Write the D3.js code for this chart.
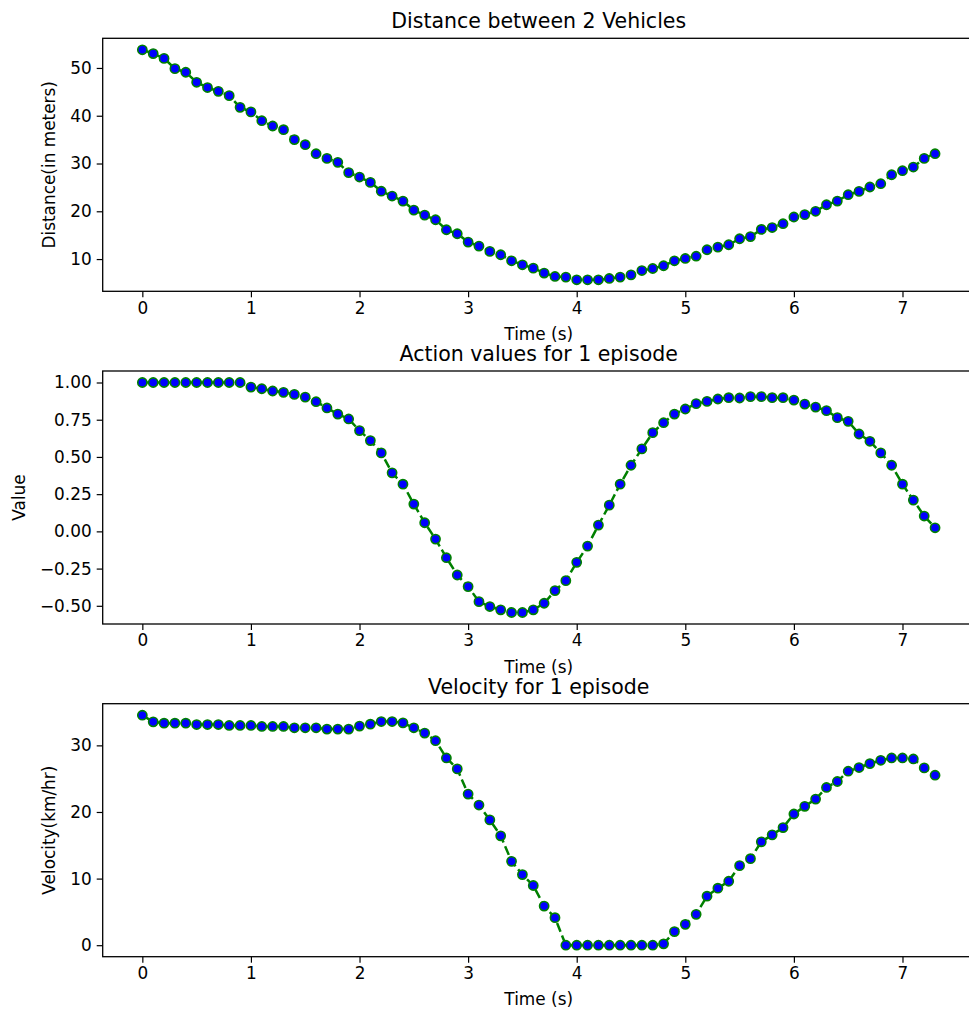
<!DOCTYPE html>
<html>
<head>
<meta charset="utf-8">
<script src="https://cdn.jsdelivr.net/npm/d3@7"></script>
<style>
  html, body { margin: 0; padding: 0; background: #fff; }
  svg { display: block; }
  text { font-family: "DejaVu Sans", sans-serif; fill: #000; }
</style>
</head>
<body>
<svg id="chart" width="969" height="1012"></svg>
<script>
// ---- data ----
const time = [0.0,0.1,0.2,0.3,0.4,0.5,0.6,0.7,0.8,0.9,
  1.0,1.1,1.2,1.3,1.4,1.5,1.6,1.7,1.8,1.9,
  2.0,2.1,2.2,2.3,2.4,2.5,2.6,2.7,2.8,2.9,
  3.0,3.1,3.2,3.3,3.4,3.5,3.6,3.7,3.8,3.9,
  4.0,4.1,4.2,4.3,4.4,4.5,4.6,4.7,4.8,4.9,
  5.0,5.1,5.2,5.3,5.4,5.5,5.6,5.7,5.8,5.9,
  6.0,6.1,6.2,6.3,6.4,6.5,6.6,6.7,6.8,6.9,
  7.0,7.1,7.2,7.3];

const distance = [53.8,53.0,52.0,49.85,49.1,47.0,45.9,45.1,44.2,41.75,
  40.8,38.96,37.85,37.08,35.0,33.94,32.05,31.07,30.24,28.1,
  27.17,26.05,24.2,23.19,22.14,20.25,19.2,18.23,16.14,15.3,
  13.55,12.7,11.6,10.9,9.64,8.8,8.1,7.07,6.36,6.22,
  5.66,5.66,5.66,5.94,6.22,6.7,7.6,8.03,8.6,9.64,
  10.13,10.6,11.95,12.5,13.0,14.25,14.7,16.2,16.6,17.4,
  18.8,19.3,20.0,21.37,22.14,23.47,24.16,25.08,25.77,27.65,
  28.49,29.26,31.07,32.05];

const action = [1.0,1.0,1.0,1.0,1.0,1.0,1.0,1.0,1.0,1.0,
  0.969,0.958,0.943,0.934,0.920,0.902,0.871,0.829,0.788,0.755,
  0.677,0.610,0.527,0.393,0.317,0.183,0.058,-0.052,-0.177,-0.293,
  -0.371,-0.472,-0.505,-0.527,-0.545,-0.545,-0.527,-0.483,-0.398,-0.331,
  -0.208,-0.099,0.042,0.176,0.317,0.444,0.554,0.663,0.730,0.788,
  0.822,0.858,0.873,0.889,0.898,0.896,0.905,0.905,0.898,0.898,
  0.882,0.855,0.835,0.811,0.764,0.739,0.654,0.605,0.527,0.444,
  0.317,0.210,0.103,0.024];

const velocity = [34.53,33.53,33.33,33.33,33.33,33.13,33.13,33.13,32.99,32.99,
  32.99,32.84,32.84,32.84,32.64,32.64,32.64,32.44,32.44,32.44,
  32.89,33.18,33.58,33.58,33.38,32.64,31.84,30.70,28.11,26.47,
  22.69,21.04,18.81,16.42,12.59,10.60,8.96,5.87,4.13,0.0,
  0.0,0.0,0.0,0.0,0.0,0.0,0.0,0.0,0.2,2.04,
  3.13,4.63,7.36,8.56,9.6,11.94,12.99,15.52,16.57,17.66,
  19.70,20.85,21.94,23.68,24.58,26.12,26.67,27.26,27.76,28.11,
  28.11,27.96,26.62,25.52];

const xTicks = [0,1,2,3,4,5,6,7];
const distTicks = [10,20,30,40,50];
const actionTicks = [-0.5,-0.25,0,0.25,0.5,0.75,1.0];
const velTicks = [0,10,20,30];

const titles = ["Distance between 2 Vehicles", "Action values for 1 episode", "Velocity for 1 episode"];
const yLabels = ["Distance(in meters)", "Value", "Velocity(km/hr)"];
const xLabel = "Time (s)";

// ---- layout ----
const svg = d3.select("#chart");
const left = 102.7, right = 974.7, axH = 253;
const tops = [38.3, 371, 703.7];
const ylabX = [54.5, 24.5, 54.5];

function padDomain(arr) {
  const lo = d3.min(arr), hi = d3.max(arr), m = (hi - lo) * 0.05;
  return [lo - m, hi + m];
}
const xDom = padDomain(time);
const x = d3.scaleLinear().domain(xDom).range([left, right]);

const panels = [
  {vals: distance, ticks: distTicks, fmt: d3.format("d")},
  {vals: action, ticks: actionTicks, fmt: d3.format(".2f")},
  {vals: velocity, ticks: velTicks, fmt: d3.format("d")}
];

panels.forEach((p, i) => {
  const top = tops[i], bottom = top + axH;
  const y = d3.scaleLinear().domain(padDomain(p.vals)).range([bottom, top]);
  const g = svg.append("g");

  const cid = "clip" + i;
  svg.append("clipPath").attr("id", cid).append("rect")
    .attr("x", left).attr("y", top).attr("width", right - left).attr("height", axH);

  const plot = g.append("g").attr("clip-path", `url(#${cid})`);
  const pts = time.map((t, k) => [t, p.vals[k]]);
  plot.append("path")
    .datum(pts)
    .attr("d", d3.line().x(d => x(d[0])).y(d => y(d[1])))
    .attr("fill", "none")
    .attr("stroke", "#008000")
    .attr("stroke-width", 2.5)
    .attr("stroke-dasharray", "9.4,4");
  plot.selectAll("circle").data(pts).enter().append("circle")
    .attr("cx", d => x(d[0])).attr("cy", d => y(d[1]))
    .attr("r", 4.6)
    .attr("fill", "#0000ff")
    .attr("stroke", "#008000")
    .attr("stroke-width", 1.6);

  const xa = d3.axisBottom(x).tickValues(xTicks).tickFormat(d3.format("d"))
    .tickSizeInner(6).tickSizeOuter(0).tickPadding(4.5);
  const ya = d3.axisLeft(y).tickValues(p.ticks).tickFormat(d => p.fmt(d).replace("-", "\u2212"))
    .tickSizeInner(6).tickSizeOuter(0).tickPadding(5);
  const gx = g.append("g").attr("transform", `translate(0,${bottom})`).call(xa);
  const gy = g.append("g").attr("transform", `translate(${left},0)`).call(ya);
  [gx, gy].forEach(a => {
    a.select(".domain").remove();
    a.selectAll(".tick line").attr("stroke", "#000").attr("stroke-width", 1.2);
    a.selectAll(".tick text").attr("font-size", "16.9px").attr("fill", "#000")
      .style("font-family", "'DejaVu Sans', sans-serif");
  });

  g.append("rect").attr("x", left).attr("y", top).attr("width", right - left).attr("height", axH)
    .attr("fill", "none").attr("stroke", "#000").attr("stroke-width", 1.3);

  const cx = (left + right) / 2;
  g.append("text").attr("x", cx).attr("y", top - 10).attr("text-anchor", "middle")
    .attr("font-size", "20.5px").text(titles[i]);
  g.append("text").attr("x", cx).attr("y", bottom + 48.5).attr("text-anchor", "middle")
    .attr("font-size", "16.9px").text(xLabel);
  g.append("text").attr("transform", `translate(${ylabX[i]},${(top + bottom) / 2}) rotate(-90)`)
    .attr("text-anchor", "middle").attr("font-size", "16.9px").text(yLabels[i]);
});
</script>
</body>
</html>
